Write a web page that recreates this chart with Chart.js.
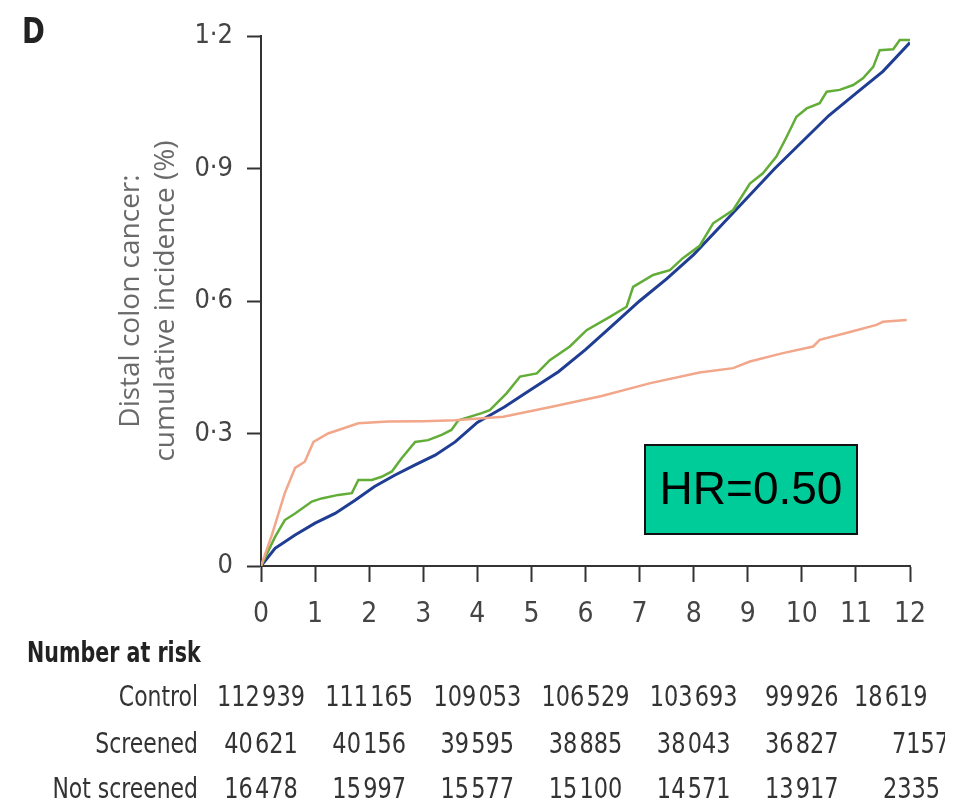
<!DOCTYPE html>
<html>
<head>
<meta charset="utf-8">
<script src="https://cdn.jsdelivr.net/npm/chart.js@4.4.1/dist/chart.umd.min.js"></script>
<style>
  body { margin: 0; background: #fff; }
  #wrap { width: 961px; height: 810px; }
</style>
</head>
<body>
<div id="wrap"><canvas id="incidenceChart" width="961" height="810"></canvas></div>
<script>
// cumulative incidence (years, %)
const controlTime = [0, 0.26, 0.63, 1.0, 1.37, 1.74, 2.1, 2.48, 2.85, 3.22, 3.59, 4.0, 4.5, 5.0, 5.5, 6.0, 6.5, 7.0, 7.5, 8.0, 8.5, 9.0, 9.5, 10.0, 10.5, 11.0, 11.5, 12.0];
const controlIncidence = [0, 0.04, 0.07, 0.097, 0.119, 0.149, 0.18, 0.206, 0.229, 0.251, 0.281, 0.325, 0.36, 0.40, 0.44, 0.49, 0.545, 0.60, 0.65, 0.705, 0.77, 0.835, 0.90, 0.96, 1.02, 1.07, 1.12, 1.185];

const screenedTime = [0, 0.2, 0.44, 0.63, 0.81, 0.97, 1.24, 1.8, 2.35, 3.0, 3.59, 4.48, 5.4, 6.3, 7.2, 8.11, 8.73, 9.04, 9.65, 10.21, 10.33, 10.89, 11.38, 11.5, 11.94];
const screenedIncidence = [0, 0.07, 0.165, 0.222, 0.236, 0.281, 0.30, 0.323, 0.327, 0.328, 0.33, 0.338, 0.361, 0.385, 0.414, 0.438, 0.448, 0.463, 0.482, 0.497, 0.512, 0.53, 0.546, 0.553, 0.557];

const notScreenedTime = [0, 0.26, 0.44, 0.63, 0.94, 1.12, 1.43, 1.68, 1.8, 2.05, 2.23, 2.42, 2.6, 2.85, 3.09, 3.34, 3.52, 3.65, 4.08, 4.23, 4.54, 4.79, 5.1, 5.34, 5.71, 6.02, 6.45, 6.76, 6.88, 7.25, 7.56, 7.8, 8.11, 8.36, 8.73, 9.04, 9.28, 9.53, 9.72, 9.9, 10.09, 10.33, 10.46, 10.7, 10.95, 11.13, 11.32, 11.44, 11.69, 11.81, 12.0];
const notScreenedIncidence = [0, 0.066, 0.104, 0.119, 0.146, 0.153, 0.161, 0.165, 0.195, 0.195, 0.202, 0.214, 0.244, 0.281, 0.285, 0.297, 0.308, 0.33, 0.346, 0.353, 0.391, 0.429, 0.436, 0.466, 0.497, 0.534, 0.564, 0.587, 0.632, 0.659, 0.67, 0.697, 0.725, 0.776, 0.806, 0.866, 0.889, 0.927, 0.972, 1.017, 1.036, 1.048, 1.074, 1.078, 1.089, 1.104, 1.13, 1.168, 1.17, 1.191, 1.191];

// number at risk table
const riskTimes = [0, 2, 4, 6, 8, 10, 12];
const riskGroups = ["Control", "Screened", "Not screened"];
const controlAtRisk = ["112\u200a939", "111\u200a165", "109\u200a053", "106\u200a529", "103\u200a693", "99\u200a926", "18\u200a619"];
const screenedAtRisk = ["40\u200a621", "40\u200a156", "39\u200a595", "38\u200a885", "38\u200a043", "36\u200a827", "7157"];
const notScreenedAtRisk = ["16\u200a478", "15\u200a997", "15\u200a577", "15\u200a100", "14\u200a571", "13\u200a917", "2335"];

const hrLabel = "HR=0.50";

const narrow = "'Liberation Sans Narrow', 'DejaVu Sans Condensed', sans-serif";

function toPoints(xs, ys) {
    return xs.map((x, i) => ({ x: x, y: ys[i] }));
}

// canvas has no condensed face here, so squeeze text horizontally
function squeezed(ctx, text, x, y, align, sx) {
    ctx.save();
    ctx.translate(x, y);
    ctx.scale(sx, 1);
    ctx.textAlign = align;
    ctx.fillText(text, 0, 0);
    ctx.restore();
}

const extras = {
    id: "extras",
    afterDraw(chart) {
        const ctx = chart.ctx;
        const xs = chart.scales.x;
        ctx.save();

        // panel letter
        ctx.fillStyle = "#222";
        ctx.font = "bold 36px " + narrow;
        ctx.textBaseline = "alphabetic";
        squeezed(ctx, "D", 22, 43, "left", 0.85);

        // HR box
        ctx.fillStyle = "#00cc99";
        ctx.fillRect(645, 445, 212, 89);
        ctx.strokeStyle = "#111";
        ctx.lineWidth = 2;
        ctx.strokeRect(645, 445, 212, 89);
        ctx.fillStyle = "#000";
        ctx.font = "46px 'Liberation Sans', Arial, sans-serif";
        ctx.textAlign = "center";
        ctx.textBaseline = "middle";
        ctx.fillText(hrLabel, 751, 491);

        // number at risk
        ctx.fillStyle = "#222";
        ctx.font = "bold 29px " + narrow;
        ctx.textBaseline = "middle";
        squeezed(ctx, "Number at risk", 27, 654, "left", 0.79);

        const rows = [controlAtRisk, screenedAtRisk, notScreenedAtRisk];
        const rowY = [698, 745, 790];
        const lastStart = [854, 892, 883];
        ctx.beginPath();
        ctx.rect(0, 620, 945, 190);
        ctx.clip();
        ctx.fillStyle = "#333";
        ctx.font = "29px " + narrow;
        rows.forEach((vals, r) => {
            squeezed(ctx, riskGroups[r], 198, rowY[r], "right", 0.84);
            vals.forEach((v, i) => {
                if (i === vals.length - 1) {
                    squeezed(ctx, v, lastStart[r], rowY[r], "left", 0.86);
                } else {
                    squeezed(ctx, v, xs.getPixelForValue(riskTimes[i]), rowY[r], "center", 0.86);
                }
            });
        });
        ctx.restore();
    }
};

new Chart(document.getElementById("incidenceChart"), {
    type: "line",
    data: {
        datasets: [
            {
                label: "Screened",
                data: toPoints(screenedTime, screenedIncidence),
                borderColor: "#f2a68a",
                borderWidth: 2.5,
            },
            {
                label: "Not screened",
                data: toPoints(notScreenedTime, notScreenedIncidence),
                borderColor: "#62ad37",
                borderWidth: 2.5,
            },
            {
                label: "Control",
                data: toPoints(controlTime, controlIncidence),
                borderColor: "#1f3d92",
                borderWidth: 3,
            },
        ],
    },
    options: {
        responsive: false,
        animation: false,
        elements: { point: { radius: 0 }, line: { tension: 0 } },
        layout: { padding: { top: 36, left: 0, right: 51, bottom: 174 } },
        plugins: { legend: { display: false }, tooltip: { enabled: false } },
        scales: {
            x: {
                type: "linear",
                min: 0,
                max: 12,
                afterFit: (s) => { s.height = 70; },
                border: { color: "#333", width: 2 },
                grid: { drawOnChartArea: false, tickLength: 16, tickColor: "#333", tickWidth: 2 },
                ticks: {
                    stepSize: 1,
                    padding: 16,
                    color: "#444",
                    font: { family: narrow, size: 28 },
                },
            },
            y: {
                min: 0,
                max: 1.2,
                afterFit: (s) => { s.width = 261; },
                border: { color: "#333", width: 2 },
                grid: { drawOnChartArea: false, tickLength: 14, tickColor: "#333", tickWidth: 2 },
                ticks: {
                    stepSize: 0.3,
                    padding: 14,
                    color: "#444",
                    font: { family: narrow, size: 27 },
                    callback: (v) => (v === 0 ? "0" : v.toFixed(1).replace(".", "\u00b7")),
                },
                title: {
                    display: true,
                    text: ["Distal colon cancer:", "cumulative incidence (%)"],
                    color: "#6a6a6a",
                    font: { family: "'Open Sans', sans-serif", size: 28, lineHeight: 1.25 },
                    padding: { top: 114, bottom: 0 },
                },
            },
        },
    },
    plugins: [extras],
});
</script>
</body>
</html>
